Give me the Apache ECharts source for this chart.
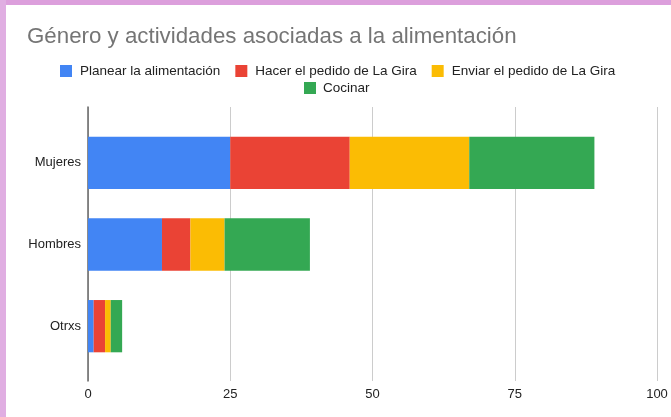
<!DOCTYPE html>
<html>
<head>
<meta charset="utf-8">
<script src="https://cdn.jsdelivr.net/npm/echarts@6/dist/echarts.min.js"></script>
<style>
html,body{margin:0;padding:0;background:#fff;}
#chart{width:671px;height:417px;}
</style>
</head>
<body>
<div id="chart"></div>
<script>
const categories = ['Mujeres', 'Hombres', 'Otrxs'];
const seriesNames = ['Planear la alimentación', 'Hacer el pedido de La Gira', 'Enviar el pedido de La Gira', 'Cocinar'];
const planear = [25, 13, 1];
const hacerPedido = [21, 5, 2];
const enviarPedido = [21, 6, 1];
const cocinar = [22, 15, 2];
const xTicks = [0, 25, 50, 75, 100];
const colors = ['#4285F4', '#EA4335', '#FBBC04', '#34A853'];

const values = [planear, hacerPedido, enviarPedido, cocinar];
const font = 'Arial, "Liberation Sans", sans-serif';

const chart = echarts.init(document.getElementById('chart'), null, {renderer: 'canvas'});
chart.setOption({
  backgroundColor: '#ffffff',
  animation: false,
  title: {
    text: 'Género y actividades asociadas a la alimentación',
    left: 22, top: 21,
    textStyle: {fontFamily: font, fontSize: 22.3, fontWeight: 'normal', color: '#757575'}
  },
  legend: [
    {
      data: seriesNames.slice(0, 3),
      left: 55, top: 59,
      icon: 'rect', itemWidth: 12, itemHeight: 12, itemGap: 15,
      textStyle: {fontFamily: font, fontSize: 13.5, color: '#222', padding: [0, 0, 0, 3]}
    },
    {
      data: seriesNames.slice(3),
      left: 299, top: 76,
      icon: 'rect', itemWidth: 12, itemHeight: 12, itemGap: 15,
      textStyle: {fontFamily: font, fontSize: 13.5, color: '#222', padding: [0, 0, 0, 2]}
    }
  ],
  graphic: [
    {type: 'rect', shape: {x: 0, y: 0, width: 671, height: 5}, style: {fill: '#dc9fdc'}, z: 100},
    {type: 'rect', shape: {x: 0, y: 0, width: 6, height: 417}, style: {fill: '#e0aee2'}, z: 100}
  ],
  grid: [
    {left: 88, right: 14, top: 107, bottom: 36},
    {left: 88, right: 14, top: 122, height: 245}
  ],
  xAxis: [
    {
      gridIndex: 0, type: 'value', min: xTicks[0], max: xTicks[xTicks.length - 1], interval: 25,
      axisLine: {show: false}, axisTick: {show: false},
      axisLabel: {fontFamily: font, fontSize: 13, color: '#222', margin: 7},
      splitLine: {lineStyle: {color: '#cccccc', width: 1}}
    },
    {
      gridIndex: 1, type: 'value', min: xTicks[0], max: xTicks[xTicks.length - 1], interval: 25,
      show: false
    }
  ],
  yAxis: [
    {
      gridIndex: 0, type: 'value', min: 0, max: 1,
      axisLine: {show: true, lineStyle: {color: '#666', width: 1.5}},
      axisTick: {show: false}, axisLabel: {show: false}, splitLine: {show: false}
    },
    {
      gridIndex: 1, type: 'category', data: categories, inverse: true,
      axisLine: {show: false}, axisTick: {show: false},
      axisLabel: {fontFamily: font, fontSize: 13, color: '#222', margin: 7},
      splitLine: {show: false}
    }
  ],
  series: seriesNames.map((name, i) => ({
    name: name,
    type: 'bar',
    stack: 'total',
    xAxisIndex: 1, yAxisIndex: 1,
    barWidth: '64%',
    itemStyle: {color: colors[i]},
    data: values[i]
  })),
  color: colors
});
</script>
</body>
</html>
